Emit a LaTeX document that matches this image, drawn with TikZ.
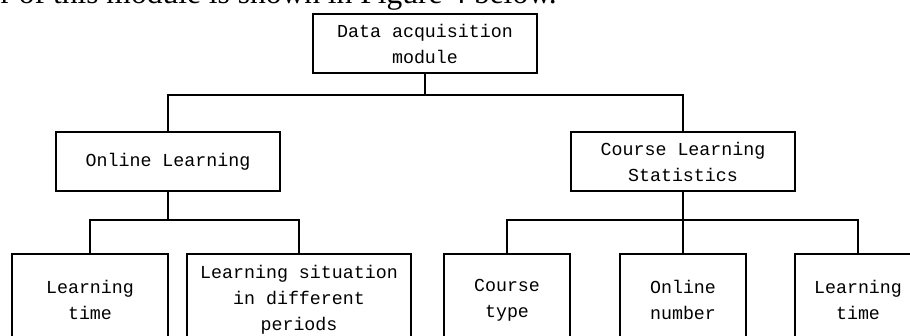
\documentclass[tikz,border=0pt]{standalone}
\usepackage{fontspec}
\setmainfont{Liberation Serif}
\newfontfamily\boxfont{Liberation Mono}
\usepackage{tikz}

\begin{document}
\begin{tikzpicture}[x=1pt, y=-1pt,
    box/.style={draw, line width=1.1pt, align=center, inner sep=0pt,
        font=\boxfont\fontsize{18.3}{26}\selectfont},
    link/.style={draw, line width=1.1pt}]
                \clip (0, 0) rectangle (910, 336);

                % text of the page above the figure
                \node[anchor=base east, inner sep=0pt, font=\fontsize{31.5}{36}\selectfont] (lead) at (557, 3.5) {r of this module is shown in Figure 4 below.};

                \node[box, minimum width=224, minimum height=59] (dam) at (425, 43.5) {Data acquisition\\module};

                \node[box, minimum width=224, minimum height=59] (ol) at (168, 161.5) {Online Learning};
                \node[box, minimum width=224, minimum height=59] (cls) at (683, 161.5) {Course Learning\\Statistics};

                \node[box, minimum width=156, minimum height=92] (lt) at (90, 300) {Learning\\time};
                \node[box, minimum width=224, minimum height=92] (ls) at (299, 300) {Learning situation\\in different\\periods};
                \node[box, minimum width=126, minimum height=92] (ct) at (507, 300) {Course\\type};
                \node[box, minimum width=126, minimum height=92] (on) at (683, 300) {Online\\number};
                \node[box, minimum width=126, minimum height=92] (lt2) at (858, 300) {Learning\\time};

                \coordinate (bus) at (425, 95);
                \coordinate (busL) at (168, 220);
                \coordinate (busR) at (683, 220);

                \draw[link] (dam.south) -- (bus);
                \draw[link] (ol.north) |- (bus) -| (cls.north);

                \draw[link] (ol.south) -- (busL);
                \draw[link] (lt.north) |- (busL) -| (ls.north);

                \draw[link] (cls.south) -- (on.north);
                \draw[link] (ct.north) |- (busR) -| (lt2.north);
            \end{tikzpicture}
\end{document}
